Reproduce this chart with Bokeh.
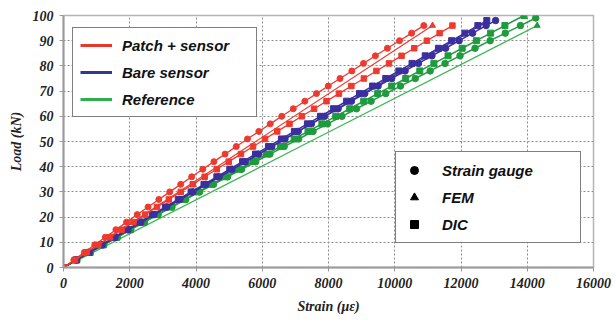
from bokeh.plotting import figure
from bokeh.models import Range1d, Legend, LegendItem, FixedTicker
from bokeh.embed import file_html
from bokeh.resources import INLINE

NAN = float("nan")

# ---------------- data ----------------
loads_96 = [0, 3, 6, 9, 12, 15, 18, 21, 24, 27, 30, 33, 36, 39, 42, 45, 48, 51, 54,
            57, 60, 63, 66, 69, 72, 75, 78, 81, 84, 87, 90, 93, 96]
loads_98 = loads_96 + [98]
loads_99 = loads_96 + [99]
loads_100 = loads_96 + [100]

# Patch + sensor (red)
red_sg = [0, 313, 628, 944, 1262, 1582, 1903, 2226, 2552, 2878, 3207, 3538, 3870, 4204,
          4540, 4878, 5216, 5554, 5897, 6242, 6588, 6936, 7286, 7638, 7992, 8348, 8705,
          9056, 9416, 9779, 10143, 10509, 10877]
red_dic = [0, 349, 698, 1049, 1402, 1755, 2110, 2465, 2822, 3181, 3540, 3901, 4262, 4625,
           4990, 5355, 5722, 6084, 6453, 6823, 7194, 7566, 7940, 8315, 8690, 9068, 9446,
           9825, 10206, 10588, 10971, 11355, 11741]
red_fem_load = [0, 48, 96]
red_fem = [0, 5570, 11140]

# Bare sensor (blue)
blue_sg = [0, 387, 775, 1165, 1554, 1944, 2335, 2728, 3120, 3513, 3906, 4300, 4698, 5093,
           5489, 5886, 6288, 6686, 7085, 7484, 7884, 8291, 8692, 9094, 9497, 9908, 10312,
           10716, 11122, 11536, 11943, 12350, 12758, 13044]
blue_dic = [0, 383, 766, 1150, 1535, 1919, 2304, 2690, 3077, 3464, 3852, 4241, 4630, 5019,
            5405, 5796, 6187, 6579, 6971, 7364, 7758, 8152, 8547, 8936, 9331, 9728, 10124,
            10522, 10920, 11319, 11718, 12118, 12509, 12779]
blue_fem_load = [0, 49, 98]
blue_fem = [0, 6420, 12850]

# Reference (green)
green_sg = [0, 403, 808, 1214, 1622, 2033, 2444, 2858, 3274, 3691, 4110, 4531, 4954, 5378,
            5804, 6233, 6662, 7099, 7533, 7969, 8406, 8845, 9286, 9729, 10174, 10620, 11068,
            11518, 11970, 12424, 12879, 13336, 13795, 14256]
green_dic = [0, 402, 806, 1210, 1615, 2021, 2428, 2836, 3245, 3654, 4065, 4476, 4889, 5302,
             5716, 6131, 6547, 6964, 7382, 7800, 8220, 8640, 9062, 9484, 9907, 10331, 10756,
             11182, 11609, 12036, 12465, 12894, 13325, 13900]
green_fem_load = [0, 48, 96]
green_fem = [0, 7150, 14300]

x_ticks = [0, 2000, 4000, 6000, 8000, 10000, 12000, 14000, 16000]
y_ticks = [0, 10, 20, 30, 40, 50, 60, 70, 80, 90, 100]

RED = "#ee3a2e"
BLUE = "#3b2f9e"
GREEN = "#1f9a3c"
GREEN_LINE = "#3fb655"

SERIF = "Liberation Serif"
SANS = "Liberation Sans"

p = figure(width=616, height=327, output_backend="svg", toolbar_location=None,
           x_range=Range1d(0, 16000), y_range=Range1d(0, 100),
           min_border_left=63, min_border_right=23, min_border_top=15, min_border_bottom=60)
p.background_fill_color = "white"
p.border_fill_color = "white"
p.outline_line_color = "#b5b5b5"
p.outline_line_width = 1.5

for ax in (p.xaxis, p.yaxis):
    ax.axis_line_color = "#9a9a9a"
    ax.axis_line_width = 2
    ax.major_tick_line_color = "#9a9a9a"
    ax.major_tick_in = 0
    ax.major_tick_out = 4
    ax.minor_tick_line_color = None
    ax.major_label_text_font = SERIF
    ax.major_label_text_font_style = "bold italic"
    ax.major_label_text_font_size = "14px"
    ax.major_label_text_color = "#222222"
    ax.axis_label_text_font = SERIF
    ax.axis_label_text_font_style = "bold italic"
    ax.axis_label_text_font_size = "14px"
    ax.axis_label_text_color = "#222222"

p.xaxis.ticker = FixedTicker(ticks=x_ticks)
p.yaxis.ticker = FixedTicker(ticks=y_ticks)
p.xaxis.axis_label = "Strain (με)"
p.yaxis.axis_label = "Load (kN)"
p.xaxis.major_label_standoff = 6
p.yaxis.major_label_standoff = 6
p.xaxis.axis_label_standoff = 8
p.yaxis.axis_label_standoff = 6

for g in (p.xgrid, p.ygrid):
    g.grid_line_color = "#8c8c8c"
    g.grid_line_dash = "2 2"
    g.grid_line_width = 1
p.xgrid.ticker = FixedTicker(ticks=x_ticks)
p.ygrid.ticker = FixedTicker(ticks=y_ticks)

# Reference (green)
p.line(green_fem, green_fem_load, line_color=GREEN_LINE, line_width=1.3)
p.scatter(green_fem[-1:], green_fem_load[-1:], marker="triangle", size=6, color=GREEN)
p.line(green_dic, loads_100, line_color=GREEN, line_width=1.5)
p.scatter(green_dic, loads_100, marker="square", size=6, color=GREEN)
p.line(green_sg, loads_99, line_color=GREEN, line_width=1.5)
p.scatter(green_sg, loads_99, marker="circle", size=6.5, color=GREEN)

# Bare sensor (blue)
p.line(blue_fem, blue_fem_load, line_color=BLUE, line_width=1.2)
p.line(blue_dic, loads_98, line_color=BLUE, line_width=1.5)
p.scatter(blue_dic, loads_98, marker="square", size=6, color=BLUE)
p.line(blue_sg, loads_98, line_color=BLUE, line_width=1.5)
p.scatter(blue_sg, loads_98, marker="circle", size=6.5, color=BLUE)

# Patch + sensor (red)
p.line(red_fem, red_fem_load, line_color=RED, line_width=1.2)
p.scatter(red_fem[-1:], red_fem_load[-1:], marker="triangle", size=6, color=RED)
p.line(red_dic, loads_96, line_color=RED, line_width=1.3)
p.scatter(red_dic, loads_96, marker="square", size=5.5, color=RED)
p.line(red_sg, loads_96, line_color=RED, line_width=1.3)
p.scatter(red_sg, loads_96, marker="circle", size=6, color=RED)

# Legend proxies (no visible data)
lr = p.line([NAN], [NAN], line_color="#e8382c", line_width=3)
lb = p.line([NAN], [NAN], line_color="#2e3a8c", line_width=3)
lg = p.line([NAN], [NAN], line_color="#2bb04c", line_width=3)
mc = p.scatter([NAN], [NAN], marker="circle", size=9, color="black")
mt = p.scatter([NAN], [NAN], marker="triangle", size=9, color="black")
ms = p.scatter([NAN], [NAN], marker="square", size=8, color="black")

def style(leg):
    leg.label_text_font = SANS
    leg.label_text_font_style = "bold italic"
    leg.label_text_font_size = "15px"
    leg.label_text_color = "#111111"
    leg.border_line_color = "black"
    leg.border_line_width = 1
    leg.background_fill_color = "white"
    leg.background_fill_alpha = 1
    leg.margin = 0
    leg.label_height = 20
    leg.glyph_height = 20
    leg.spacing = 7

leg1 = Legend(items=[LegendItem(label="Patch + sensor", renderers=[lr]),
                     LegendItem(label="Bare sensor", renderers=[lb]),
                     LegendItem(label="Reference", renderers=[lg])],
              location=(9, 150))
style(leg1)
leg1.padding = 7
leg1.glyph_width = 32
leg1.label_standoff = 10
leg1.label_width = 127

leg2 = Legend(items=[LegendItem(label="Strain gauge", renderers=[mc]),
                     LegendItem(label="FEM", renderers=[mt]),
                     LegendItem(label="DIC", renderers=[ms])],
              location=(332, 24))
style(leg2)
leg2.padding = 8
leg2.glyph_width = 20
leg2.label_standoff = 18
leg2.label_width = 130

p.add_layout(leg1, "center")
p.add_layout(leg2, "center")

open("out.html", "w").write(file_html(p, INLINE))
